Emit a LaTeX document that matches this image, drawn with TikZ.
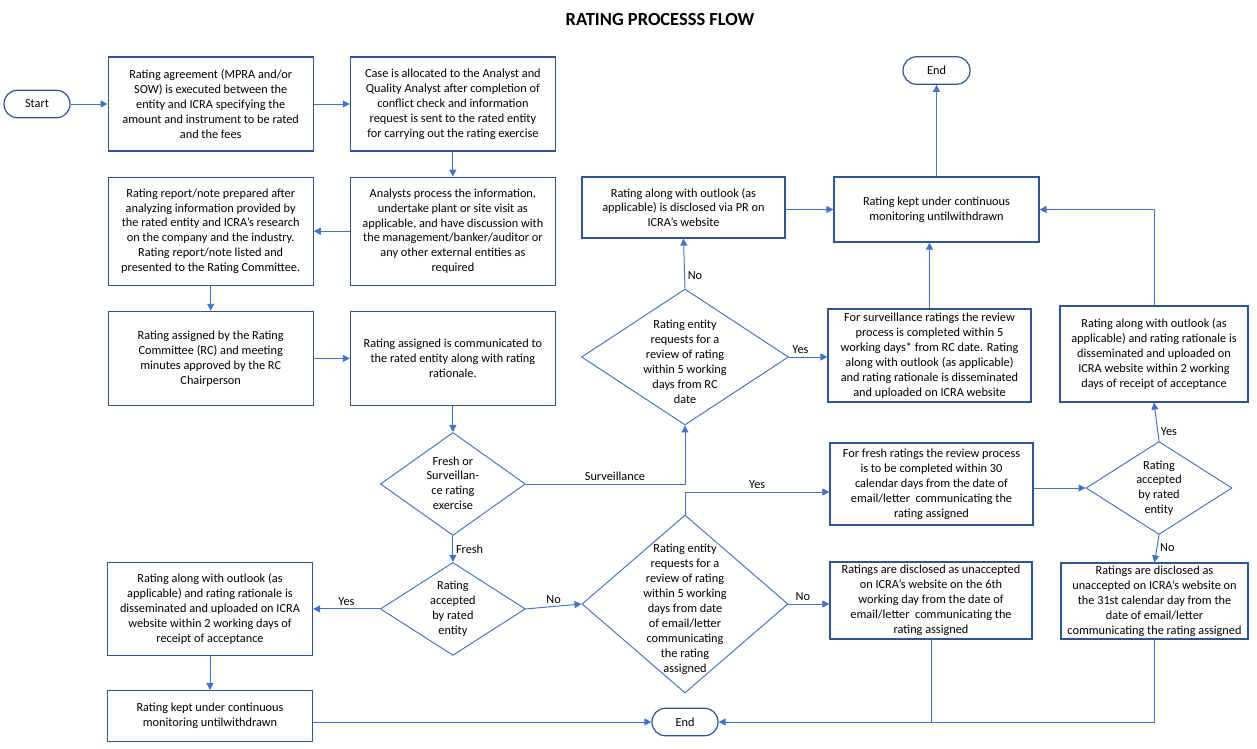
\documentclass[tikz,border=0pt]{standalone}
\usepackage{fontspec}
\setmainfont{Carlito}
\usepackage{tikz}
\usetikzlibrary{shapes.geometric, arrows.meta, positioning, calc}
\usepackage{xcolor}
\definecolor{lineBlue}{RGB}{68,114,196}
\definecolor{boxBlue}{RGB}{47,85,151}

% text inside a decision diamond, kept from enlarging the shape
\newcommand{\decisiontext}[2][-2pt]{\makebox[0pt]{\smash{\raisebox{#1}{\begin{tabular}{@{}c@{}}#2\end{tabular}}}}}

\begin{document}
\begin{tikzpicture}[
    x=0.02cm, y=-0.02cm,
    every node/.style={font=\fontsize{7}{8.5}\selectfont},
    process/.style={rectangle, draw=boxBlue, line width=0.7pt, minimum width=4.1cm, minimum height=1.88cm, align=center, inner sep=1pt},
    decision/.style={diamond, draw=lineBlue, line width=0.55pt, inner sep=0pt},
    terminal/.style={rectangle, rounded corners=0.27cm, draw=boxBlue, line width=0.7pt, minimum width=1.32cm, minimum height=0.55cm},
    arrow/.style={-{Triangle[length=4pt, width=4pt]}, lineBlue, line width=0.55pt},
    line/.style={lineBlue, line width=0.55pt},
    lbl/.style={inner sep=1.5pt, text=black}
]
\useasboundingbox (0,0) rectangle (1257,749);

% Title
\node[font=\fontsize{10.5}{12}\selectfont\bfseries] (title) at (660,20) {RATING PROCESSS FLOW};

% Left part of the flow
\node[terminal] (start) at (37,104) {Start};
\node[process, right=0.74cm of start] (agree) {Rating agreement (MPRA and/or\\ SOW) is executed between the\\ entity and ICRA specifying the\\ amount and instrument to be rated\\ and the fees};
\node[process, right=0.72cm of agree] (alloc) {Case is allocated to the Analyst and\\ Quality Analyst after completion of\\ conflict check and information\\ request is sent to the rated entity\\ for carrying out the rating exercise};
\node[process, below=0.5cm of alloc, minimum height=2.16cm] (analyse) {Analysts process the information,\\ undertake plant or site visit as\\ applicable, and have discussion with\\ the management/banker/auditor or\\ any other external entities as\\ required};
\node[process, left=0.72cm of analyse, minimum height=2.16cm] (report) {Rating report/note prepared after\\ analyzing information provided by\\ the rated entity and ICRA's research\\ on the company and the industry.\\ Rating report/note listed and\\ presented to the Rating Committee.};
\node[process, below=0.5cm of report] (assign) {Rating assigned by the Rating\\ Committee (RC) and meeting\\ minutes approved by the RC\\ Chairperson};
\node[process, right=0.72cm of assign] (commun) {Rating assigned is communicated to\\ the rated entity along with rating\\ rationale.};

% Fresh branch
\node[decision, below=0.52cm of commun, minimum width=2.9cm, minimum height=2.06cm] (fresh) {\decisiontext{Fresh or\\ Surveillan-\\ ce rating\\ exercise}};
\node[decision, below=0.52cm of fresh, minimum width=2.9cm, minimum height=1.86cm] (accept1) {\decisiontext{Rating\\ accepted\\ by rated\\ entity}};
\node[process, minimum height=1.86cm] (leftacc) at (210,609) {Rating along with outlook (as\\ applicable) and rating rationale is\\ disseminated and uploaded on ICRA\\ website within 2 working days of\\ receipt of acceptance};
\node[process, below=0.68cm of leftacc, minimum height=1.02cm] (leftmon) {Rating kept under continuous\\ monitoring untilwithdrawn};
\node[terminal] (endB) at (685,722) {End};
\node[decision, minimum width=4.12cm, minimum height=3.56cm] (review2) at (685,604) {\decisiontext[-5pt]{Rating entity\\ requests for a\\ review of rating\\ within 5 working\\ days from date\\ of email/letter\\ communicating\\ the rating\\ assigned}};
\node[process, minimum width=4.06cm, minimum height=1.64cm] (freshrev) at (931.5,484) {For fresh ratings the review process\\ is to be completed within 30\\ calendar days from the date of\\ email/letter\ \ communicating the\\ rating assigned};
\node[process, minimum width=4.04cm, minimum height=1.54cm] (unacc1) at (931,600.5) {Ratings are disclosed as unaccepted\\ on ICRA's website on the 6th\\ working day from the date of\\ email/letter\ \ communicating the\\ rating assigned};
\node[decision, minimum width=2.92cm, minimum height=1.86cm] (accept2) at (1159,488) {\decisiontext{Rating\\ accepted\\ by rated\\ entity}};
\node[process, minimum width=3.74cm, minimum height=1.52cm] (unacc2) at (1154.5,601) {Ratings are disclosed as\\ unaccepted on ICRA's website on\\ the 31st calendar day from the\\ date of email/letter\\ communicating the rating assigned};
\node[process, minimum width=3.76cm, minimum height=1.92cm] (rightacc) at (1154,354) {Rating along with outlook (as\\ applicable) and rating rationale is\\ disseminated and uploaded on\\ ICRA website within 2 working\\ days of receipt of acceptance};

% Surveillance branch
\node[decision, minimum width=4.14cm, minimum height=2.72cm] (review1) at (685,357) {\decisiontext[-5pt]{Rating entity\\ requests for a\\ review of rating\\ within 5 working\\ days from RC\\ date}};
\node[process, minimum width=4.06cm, minimum height=1.22cm] (pr) at (683.5,207.5) {Rating along with outlook (as\\ applicable) is disclosed via PR on\\ ICRA's website};
\node[process, minimum width=4.06cm, minimum height=1.86cm] (surv) at (929.5,355.5) {For surveillance ratings the review\\ process is completed within 5\\ working days* from RC date. Rating\\ along with outlook (as applicable)\\ and rating rationale is disseminated\\ and uploaded on ICRA website};
\node[process, minimum height=1.3cm] (monitor) at (936.5,209.5) {Rating kept under continuous\\ monitoring untilwithdrawn};
\node[terminal, minimum width=1.34cm] (endT) at (936.5,70.5) {End};

% Arrows
\draw[arrow] (start) -- (agree);
\draw[arrow] (agree) -- (alloc);
\draw[arrow] (alloc) -- (analyse);
\draw[arrow] (analyse) -- (report);
\draw[arrow] (report) -- (assign);
\draw[arrow] (assign) -- (commun);
\draw[arrow] (commun) -- (fresh);
\draw[arrow] (fresh) -- node[lbl, right] {Fresh} (accept1);
\draw[arrow] (fresh.east) -- node[lbl, above, pos=0.56] {Surveillance} (fresh.east -| review1.south) -- (review1.south);
\draw[arrow] (accept1.west) -- node[lbl, above] {Yes} (accept1.west -| leftacc.east);
\draw[arrow] (accept1.east) -- node[lbl, above] {No} (review2.west);
\draw[arrow] (leftacc) -- (leftmon);
\draw[arrow] (endB.west -| leftmon.east) -- (endB.west);
\draw[arrow] (review2.north) |- node[lbl, above, pos=0.75] {Yes} ([yshift=-0.16cm]freshrev.west);
\draw[arrow] (review2.east) -- node[lbl, above, pos=0.35] {No} (review2.east -| unacc1.west);
\draw[arrow] (freshrev.east |- accept2.west) -- (accept2.west);
\draw[arrow] (accept2.north) -- node[lbl, right, pos=0.25] {Yes} (rightacc.south);
\draw[arrow] (accept2.south) -- node[lbl, right, pos=0.45] {No} (unacc2.north);
\draw[line] (unacc1.south) -- (unacc1.south |- endB.east);
\draw[arrow] (unacc2.south) |- (endB.east);
\draw[arrow] (review1.north) -- node[lbl, right, pos=0.25] {No} (pr.south);
\draw[arrow] (review1.east) -- node[lbl, above, pos=0.3] {Yes} (review1.east -| surv.west);
\draw[arrow] (pr.east |- monitor.west) -- (monitor.west);
\draw[arrow] (surv.north) -- (surv.north |- monitor.south);
\draw[arrow] (monitor.north) -- (endT.south);
\draw[arrow] (rightacc.north) |- (monitor.east);

\end{tikzpicture}
\end{document}
